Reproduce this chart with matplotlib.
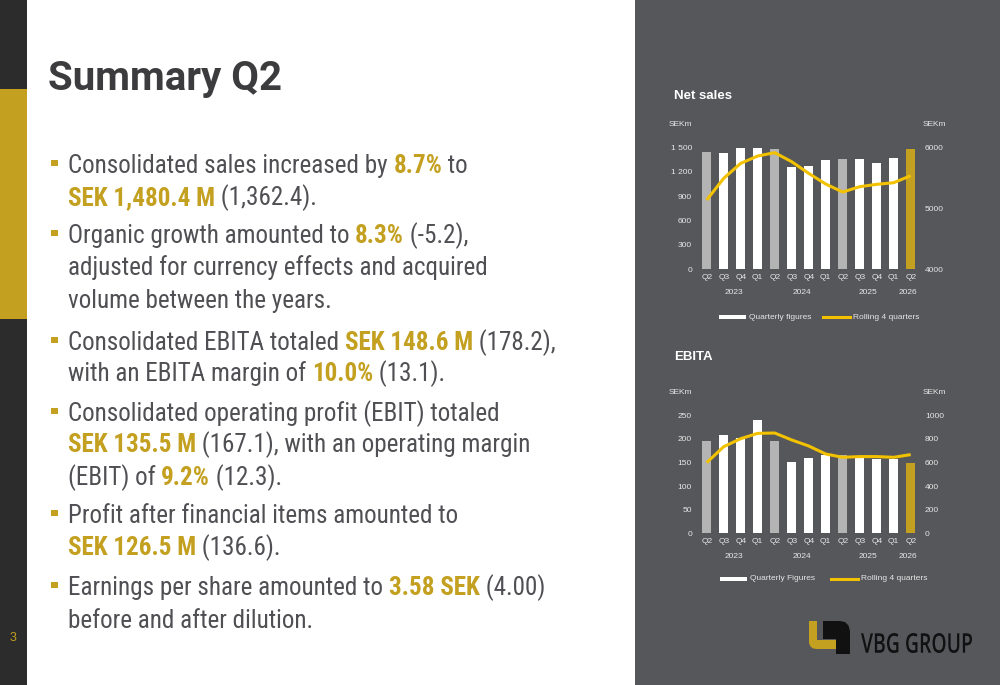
import matplotlib
matplotlib.use("Agg")
import matplotlib.pyplot as plt
from matplotlib.patches import Rectangle, Polygon, PathPatch
from matplotlib.lines import Line2D
from matplotlib.textpath import TextPath
from matplotlib.font_manager import FontProperties
from matplotlib.transforms import Affine2D, IdentityTransform

W, H = 1000, 685

# ---- data ----
quarters = ["Q2", "Q3", "Q4", "Q1", "Q2", "Q3", "Q4", "Q1", "Q2", "Q3", "Q4", "Q1", "Q2"]
years = ["2023", "2024", "2025", "2026"]
year_pos = [1.6, 5.6, 9.5, 11.85]

net_sales = [1442, 1434, 1492, 1496, 1488, 1265, 1273, 1343, 1362, 1364, 1306, 1372, 1480]
net_sales_r4 = [5137, 5495, 5742, 5863, 5918, 5769, 5577, 5401, 5269, 5357, 5396, 5423, 5538]

ebita = [196, 209, 201, 239, 196, 151, 159, 165, 166, 159, 158, 158, 149]
ebita_r4 = [599, 734, 802, 847, 850, 791, 740, 672, 644, 650, 650, 644, 667]

ns_left_ticks = [0, 300, 600, 900, 1200, 1500]
ns_left_labels = ["0", "300", "600", "900", "1 200", "1 500"]
ns_right_ticks = [4000, 5000, 6000]
eb_left_ticks = [0, 50, 100, 150, 200, 250]
eb_right_ticks = [0, 200, 400, 600, 800, 1000]

# ---- colours ----
GOLD = "#c4a020"
YELLOW = "#f2c200"
GRAYBAR = "#b4b4b4"
PANEL = "#56575b"
TXT = "#505054"
STRIP = "#2c2c2c"
LABEL = "#e6e6e6"

bar_colors = [GRAYBAR if i in (0, 4, 8) else "white" for i in range(len(quarters))]
bar_colors[-1] = GOLD


def fx(x):
    return x / W


def fy(y):
    return 1 - y / H


fig = plt.figure(figsize=(W / 100, H / 100), dpi=100)
fig.patch.set_facecolor("white")

# background blocks
for x0, y0, w, h, c in ((0, 0, 27, 685, STRIP), (0, 89, 27, 230, GOLD), (635, 0, 365, 685, PANEL)):
    fig.add_artist(Rectangle((fx(x0), fy(y0 + h)), w / W, h / H, transform=fig.transFigure,
                             color=c, lw=0, zorder=-5))

fig.text(fx(13.5), fy(638), "3", color=GOLD, fontsize=9, ha="center", va="center",
         family="Liberation Sans")

# title
fig.text(fx(48), fy(90), "Summary Q2", color="#3c3c3e", fontsize=29, fontweight="bold",
         family="Roboto", ha="left", va="baseline")

# ---- bullets ----
FS = 18.1
FAM = "Roboto Condensed"
bullets = [
    [[("Consolidated sales increased by ", 0), ("8.7%", 1), (" to", 0)],
     [("SEK 1,480.4 M", 1), (" (1,362.4).", 0)]],
    [[("Organic growth amounted to ", 0), ("8.3%", 1), (" (-5.2),", 0)],
     [("adjusted for currency effects and acquired", 0)],
     [("volume between the years.", 0)]],
    [[("Consolidated EBITA totaled ", 0), ("SEK 148.6 M", 1), (" (178.2),", 0)],
     [("with an EBITA margin of ", 0), ("10.0%", 1), (" (13.1).", 0)]],
    [[("Consolidated operating profit (EBIT) totaled", 0)],
     [("SEK 135.5 M", 1), (" (167.1), with an operating margin", 0)],
     [("(EBIT) of ", 0), ("9.2%", 1), (" (12.3).", 0)]],
    [[("Profit after financial items amounted to", 0)],
     [("SEK 126.5 M", 1), (" (136.6).", 0)]],
    [[("Earnings per share amounted to ", 0), ("3.58 SEK", 1), (" (4.00)", 0)],
     [("before and after dilution.", 0)]],
]
baselines = [[173, 205], [243, 275, 308], [350, 381], [421, 452, 485], [523, 555], [595, 628]]

renderer = fig.canvas.get_renderer()
for lines, bls in zip(bullets, baselines):
    fig.add_artist(Rectangle((fx(51), fy(bls[0] - 7)), 6.5 / W, 6.5 / H,
                             transform=fig.transFigure, color=GOLD, lw=0))
    for parts, bl in zip(lines, bls):
        x = 68
        for s, hl in parts:
            t = fig.text(fx(x), fy(bl), s, fontsize=FS, family=FAM,
                         color=GOLD if hl else TXT, fontweight="bold" if hl else "normal",
                         ha="left", va="baseline")
            x += t.get_window_extent(renderer).width


# ---- charts ----
def chart(bottom, top, vals, r4, lticks, llabels, rlim, rticks, title, title_y,
          sek_y, leg_y, leg_text, leg_x):
    left, right = 696.5, 920.9
    ax = fig.add_axes([fx(left), fy(bottom), (right - left) / W, (bottom - top) / H])
    ax.set_facecolor("none")
    x = range(len(vals))
    ax.bar(x, vals, width=0.53, color=bar_colors, zorder=2)
    ax.set_xlim(-0.6, 12.6)
    ax.set_ylim(lticks[0], lticks[-1])
    ax.set_yticks(lticks)
    ax.set_yticklabels(llabels)
    ax.set_xticks(list(x))
    ax.set_xticklabels(quarters)
    for s in ax.spines.values():
        s.set_visible(False)
    ax.tick_params(length=0, labelcolor=LABEL, labelsize=6)
    ax.tick_params(axis="x", pad=3.5)
    ax.tick_params(axis="y", pad=3.2)
    yr_off = -23 / (bottom - top)
    for yr, p in zip(years, year_pos):
        ax.text(p, yr_off, yr, transform=ax.get_xaxis_transform(), ha="center",
                va="center", fontsize=6, color=LABEL, family="Liberation Sans")
    ax2 = ax.twinx()
    ax2.plot(list(x), r4, color=YELLOW, lw=2.2, solid_capstyle="butt", zorder=3)
    ax2.set_ylim(*rlim)
    ax2.set_yticks(rticks)
    for s in ax2.spines.values():
        s.set_visible(False)
    ax2.tick_params(length=0, labelcolor=LABEL, labelsize=6, pad=3)
    for a in (ax, ax2):
        for lab in a.get_xticklabels() + a.get_yticklabels():
            lab.set_family("Liberation Sans")

    fig.text(fx(674), fy(title_y), title, color="white", fontsize=9.5, fontweight="bold",
             family="Liberation Sans", va="center")
    fig.text(fx(692), fy(sek_y), "SEKm", color=LABEL, fontsize=6, ha="right", va="center",
             family="Liberation Sans")
    fig.text(fx(923), fy(sek_y), "SEKm", color=LABEL, fontsize=6, ha="left", va="center",
             family="Liberation Sans")
    # legend
    fig.add_artist(Rectangle((fx(leg_x[0]), fy(leg_y + 2)), 27 / W, 4 / H,
                             transform=fig.transFigure, color="white", lw=0))
    fig.text(fx(leg_x[0] + 30), fy(leg_y), leg_text, color=LABEL, fontsize=6, va="center",
             family="Liberation Sans")
    fig.add_artist(Line2D([fx(leg_x[1]), fx(leg_x[1] + 27)], [fy(leg_y), fy(leg_y)],
                          transform=fig.transFigure, color=YELLOW, lw=2.2))
    fig.text(fx(leg_x[1] + 30), fy(leg_y), "Rolling 4 quarters", color=LABEL, fontsize=6,
             va="center", family="Liberation Sans")


chart(269, 147.7, net_sales, net_sales_r4, ns_left_ticks, ns_left_labels, (4000, 6000),
      ns_right_ticks, "Net sales", 96, 125, 317, "Quarterly figures", (719, 823))
chart(533.3, 415.3, ebita, ebita_r4, eb_left_ticks, [str(v) for v in eb_left_ticks], (0, 1000),
      eb_right_ticks, "EBITA", 357, 393, 579, "Quarterly Figures", (720, 831))

# ---- logo ----
gold_shape = [(809, 621), (817, 621), (817, 640), (836, 640), (836, 649), (817, 649),
              (813, 648.5), (810.5, 646.5), (809, 643)]
black_shape = [(823, 621), (840, 621), (845, 622), (848.5, 625.5), (850, 631), (850, 654),
               (836, 654), (836, 639), (823, 639)]
for shp, col in ((gold_shape, GOLD), (black_shape, "#111111")):
    fig.add_artist(Polygon([(fx(a), fy(b)) for a, b in shp], closed=True,
                           transform=fig.transFigure, color=col, lw=0))

tp = TextPath((0, 0), "VBG GROUP", size=1, prop=FontProperties(family="Open Sans", weight=600))
ext = tp.get_extents()
sx = (972 - 861) / ext.width
sy = 20 / ext.height
trans = Affine2D().translate(-ext.x0, -ext.y0).scale(sx, sy).translate(861, H - 653)
fig.add_artist(PathPatch(tp, transform=trans + IdentityTransform(), color="#111111", lw=0))

fig.savefig("out.png", dpi=100, facecolor=fig.get_facecolor())
